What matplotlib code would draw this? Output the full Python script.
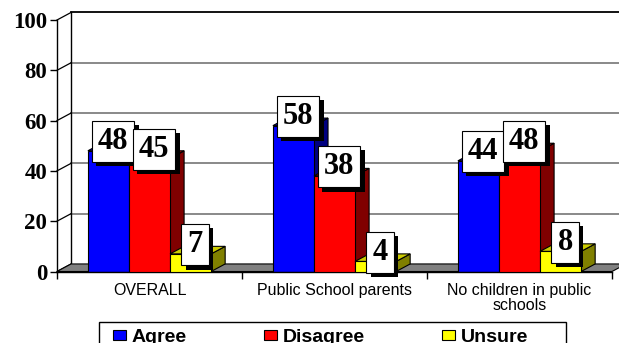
import matplotlib
matplotlib.use("Agg")
import matplotlib.pyplot as plt
import numpy as np
from matplotlib import patheffects
from matplotlib.patches import Patch, Polygon, Rectangle

CATEGORIES = ["OVERALL", "Public School parents", "No children in public\nschools"]
SERIES = ["Agree", "Disagree", "Unsure"]
AGREE = [48, 58, 44]
DISAGREE = [45, 38, 48]
UNSURE = [7, 4, 8]
Y_TICKS = [0, 20, 40, 60, 80, 100]

FRONT = ["#0000ff", "#ff0000", "#ffff00"]
TOP = ["#0000c8", "#c80000", "#cccc00"]
SIDE = ["#000080", "#800000", "#808000"]
BAR_W = 0.222
DX, DY = 0.076, 3.0  # fake 3-D depth, in data units

SERIF = "Liberation Serif"
SANS = "Liberation Sans"


def main():
    fig = plt.figure(figsize=(6.19, 3.43), dpi=100)
    ax = fig.add_axes([57 / 619, 1 - 271.5 / 343, 555 / 619, 251.5 / 343])
    ax.set_xlim(-0.5, 2.5)
    ax.set_ylim(0, 100)
    ax.patch.set_visible(False)
    for side in ("top", "right"):
        ax.spines[side].set_visible(False)
    ax.spines["left"].set_linewidth(1)
    ax.spines["bottom"].set_linewidth(1)

    # back wall: gridlines, left edge and the corner diagonals
    x0w, x1w = -0.5 + DX, 2.5 + DX
    for y in Y_TICKS[1:]:
        ax.plot([x0w, x1w], [y + DY, y + DY], color="black" if y == 100 else "#808080",
                lw=1.3, clip_on=False, zorder=0.5)
    ax.plot([x0w, x0w], [DY, 100 + DY], color="black", lw=1, clip_on=False, zorder=0.5)
    for y in Y_TICKS:
        ax.plot([-0.5, x0w], [y, y + DY], color="black", lw=0.9, clip_on=False, zorder=0.6)

    floor = Polygon([(-0.5, 0), (2.5, 0), (2.5 + DX, DY), (-0.5 + DX, DY)],
                    closed=True, fc="#808080", ec="black", lw=0.8, clip_on=False, zorder=1)
    ax.add_patch(floor)

    x = np.arange(len(CATEGORIES))
    for i, vals in enumerate([AGREE, DISAGREE, UNSURE]):
        pos = x + (i - 1) * BAR_W
        for p, v in zip(pos, vals):
            left, right = p - BAR_W / 2, p + BAR_W / 2
            ax.add_patch(Polygon([(right, 0), (right + DX, DY), (right + DX, v + DY), (right, v)],
                                 fc=SIDE[i], ec="black", lw=0.8, zorder=2 + i, clip_on=False))
            ax.add_patch(Polygon([(left, v), (left + DX, v + DY), (right + DX, v + DY), (right, v)],
                                 fc=TOP[i], ec="black", lw=0.8, zorder=2 + i, clip_on=False))
        ax.bar(pos, vals, BAR_W, color=FRONT[i], edgecolor="black", lw=0.8, zorder=2.5 + i)

    for i, vals in enumerate([AGREE, DISAGREE, UNSURE]):
        pos = x + (i - 1) * BAR_W
        for p, v in zip(pos, vals):
            t = ax.annotate(str(v), (p, v), xytext=(3.3, 6.6), textcoords="offset points",
                            ha="center", va="center", fontsize=22, fontweight="bold",
                            family=SERIF, zorder=10,
                            bbox=dict(boxstyle="square,pad=0.2", fc="white", ec="black", lw=0.8))
            t.get_bbox_patch().set_path_effects([
                patheffects.SimplePatchShadow(offset=(3, -3), shadow_rgbFace="black", alpha=1),
                patheffects.Normal(),
            ])

    ax.set_yticks(Y_TICKS)
    ax.tick_params(axis="y", length=5, width=1, pad=2, labelsize=16.5)
    for lbl in ax.get_yticklabels():
        lbl.set_family(SERIF)
        lbl.set_fontweight("bold")

    ax.set_xticks(x, CATEGORIES)
    ax.set_xticks([-0.5, 0.5, 1.5, 2.5], minor=True)
    ax.tick_params(axis="x", which="major", length=0, pad=8, labelsize=11.5)
    ax.tick_params(axis="x", which="minor", length=5, width=1)
    for lbl in ax.get_xticklabels():
        lbl.set_family(SANS)
        lbl.set_linespacing(1.0)

    handles = [Patch(fc=c, ec="black", lw=0.8, label=s) for c, s in zip(FRONT, SERIES)]
    fig.legend(handles=handles, loc="upper left", bbox_to_anchor=(113 / 619, 1 - 329 / 343),
               ncol=3, frameon=False, prop=dict(family=SANS, weight="bold", size=14),
               handlelength=0.67, handleheight=0.46, handletextpad=0.3,
               columnspacing=3.95, borderpad=0, borderaxespad=0)
    fig.patches.append(Rectangle((99 / 619, -0.05), 467 / 619, 21 / 343 + 0.05,
                                 transform=fig.transFigure, fill=False, ec="black", lw=1))

    fig.savefig("out.png", dpi=100)
    plt.close(fig)


if __name__ == "__main__":
    main()
